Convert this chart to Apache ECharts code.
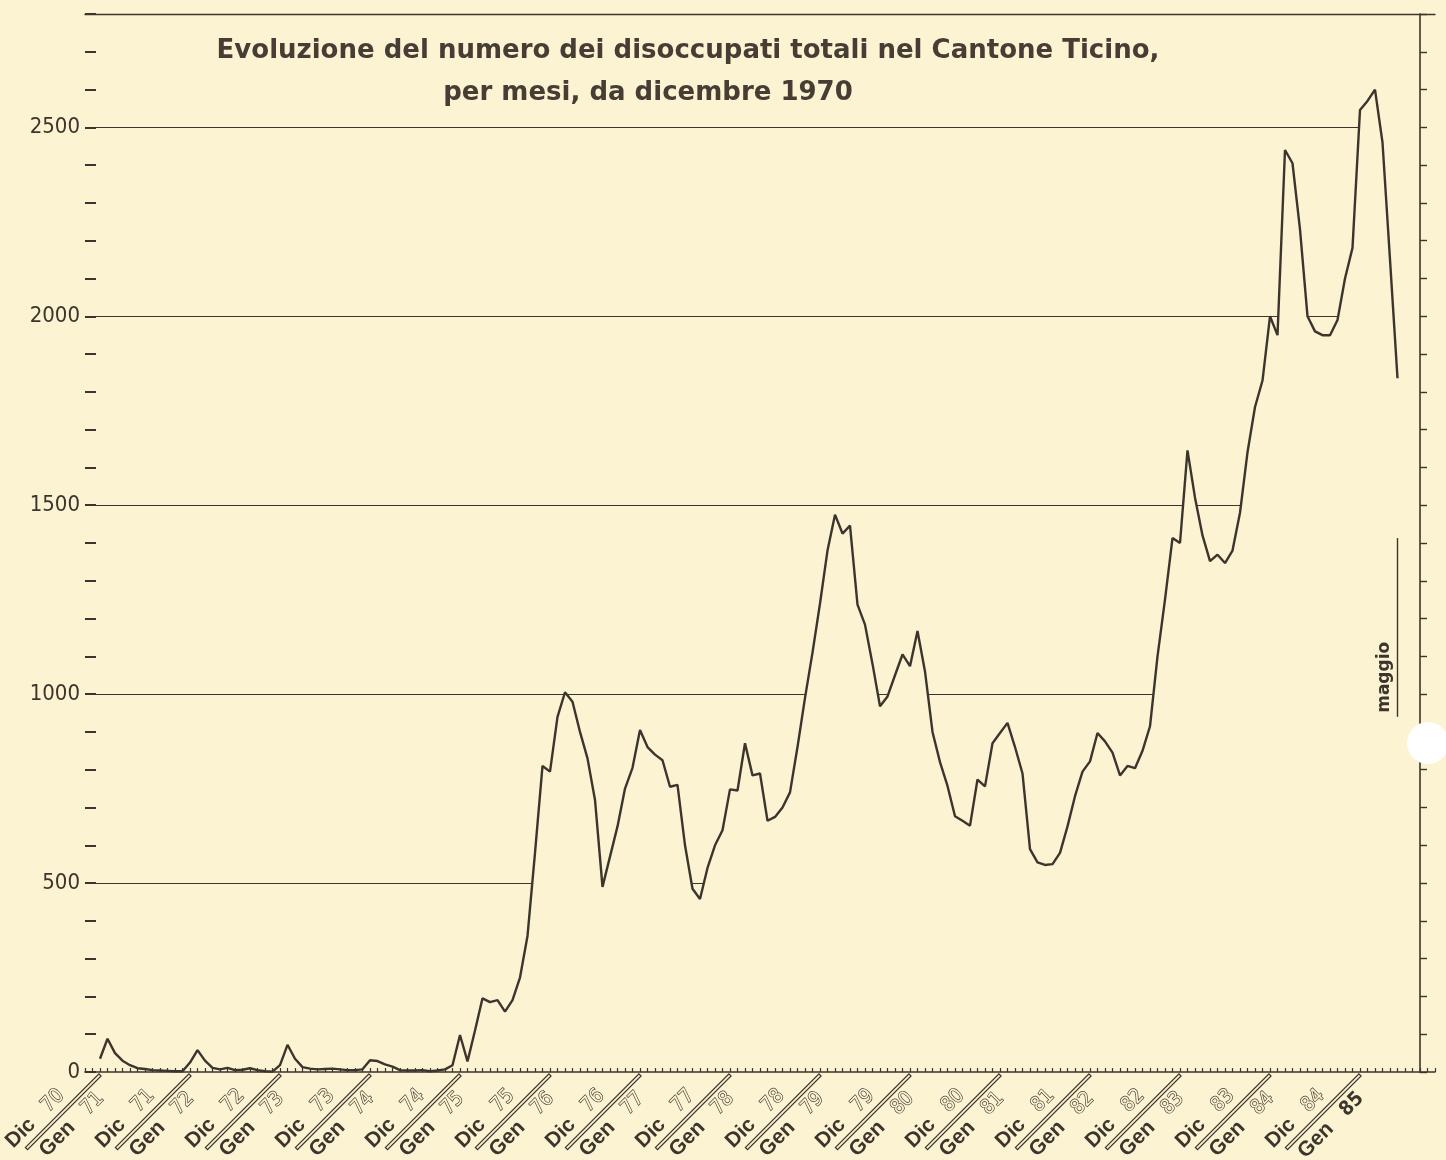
<!DOCTYPE html>
<html>
<head>
<meta charset="utf-8">
<title>Disoccupati Ticino</title>
<script src="https://cdn.jsdelivr.net/npm/echarts@6/dist/echarts.min.js"></script>
<style>
  html, body { margin: 0; padding: 0; background: #fbf3d1; }
  #chart { width: 1446px; height: 1160px; }
</style>
</head>
<body>
<div id="chart"></div>
<script>
// Disoccupati totali nel Cantone Ticino, valori mensili dic 1970 - mag 1985
const unemployed = [
  35, 88, 50, 30, 18, 10, 8, 5, 4, 3, 2, 2,                 // dic 70 - nov 71
  25, 58, 30, 11, 7, 11, 5, 6, 10, 5, 2, 1,                 // dic 71 - nov 72
  18, 72, 35, 13, 9, 7, 8, 9, 7, 5, 5, 7,                   // dic 72 - nov 73
  31, 29, 20, 14, 5, 4, 4, 5, 2, 4, 7, 18,                  // dic 73 - nov 74
  98, 28, 110, 195, 185, 190, 160, 190, 250, 360, 580, 810, // dic 74 - nov 75
  795, 940, 1005, 980, 900, 830, 720, 490, 570, 650, 750, 805,
  905, 860, 840, 825, 755, 760, 600, 485, 458, 540, 600, 640,
  748, 745, 870, 785, 790, 665, 675, 700, 740, 860, 990, 1110,
  1240, 1380, 1475, 1425, 1446, 1237, 1184, 1080, 968, 994, 1050, 1105,
  1074, 1167, 1060, 900, 820, 757, 677, 665, 652, 774, 756, 870,
  897, 924, 860, 790, 590, 555, 548, 550, 580, 650, 730, 795,
  822, 897, 875, 845, 785, 810, 804, 850, 915, 1100, 1250, 1413,
  1400, 1645, 1520, 1420, 1352, 1369, 1347, 1380, 1480, 1640, 1760, 1830,
  2000, 1950, 2440, 2405, 2230, 2000, 1960, 1950, 1950, 1990, 2100, 2181,
  2546, 2570, 2600, 2460, 2150, 1836                          // dic 84 - mag 85
];
const decYears = ['70', '71', '72', '73', '74', '75', '76', '77', '78', '79', '80', '81', '82', '83', '84'];
const janYears = ['71', '72', '73', '74', '75', '76', '77', '78', '79', '80', '81', '82', '83', '84', '85'];
const gridLevels = [500, 1000, 1500, 2000, 2500];
const titleLines = [
  'Evoluzione del numero dei disoccupati totali nel Cantone Ticino,',
  'per mesi, da dicembre 1970'
];
const lastLabel = 'maggio';

(function () {
  const BG = '#fbf3d1';
  const INK = '#3b352d';
  const NARROW = "'Liberation Sans Narrow', 'DejaVu Sans Condensed', sans-serif";

  const points = unemployed.map((v, i) => [i, v]);
  const lastIdx = unemployed.length - 1;

  const chart = echarts.init(document.getElementById('chart'));

  const yearLabel = v => {
    const k = v / 12;
    if (!Number.isInteger(k) || k < 0 || k >= decYears.length) return '';
    const genStyle = k === decYears.length - 1 ? 'mb' : 'm';
    return '{d|Dic}{n|' + decYears[k] + '}\n{r| }\n{g|Gen}{' + genStyle + '|' + janYears[k] + '}';
  };

  const bold = { fontFamily: 'Liberation Sans', fontWeight: 900, fontSize: 21, lineHeight: 24, color: INK, align: 'right' };
  const outline = { fontFamily: NARROW, fontSize: 20, lineHeight: 24, color: BG, textBorderColor: INK, textBorderWidth: 1.3, align: 'right' };

  chart.setOption({
    backgroundColor: BG,
    animation: false,
    title: [
      {
        text: titleLines[0], left: 683, top: 33, textAlign: 'center',
        textStyle: { fontFamily: 'DejaVu Sans', fontWeight: 'bold', fontSize: 26, color: '#463e34' }
      },
      {
        text: titleLines[1], left: 643, top: 75, textAlign: 'center',
        textStyle: { fontFamily: 'DejaVu Sans', fontWeight: 'bold', fontSize: 26, color: '#463e34' }
      }
    ],
    grid: { left: 85, right: 11, top: 14, bottom: 88, containLabel: false, outerBoundsMode: 'none' },
    xAxis: [
      {
        type: 'value', min: -2, max: 178, interval: 1, z: 4,
        axisLine: { onZero: false, lineStyle: { color: INK, width: 1.6 } },
        axisTick: { inside: true, length: 4, lineStyle: { color: INK, width: 1.2 } },
        splitLine: { show: false },
        axisLabel: {
          rotate: 45, margin: 3, fontSize: 18, color: INK,
          formatter: yearLabel,
          rich: {
            d: bold,
            g: bold,
            n: Object.assign({}, outline, { padding: [0, 40, 0, 18] }),
            m: Object.assign({}, outline, { padding: [0, 14, 0, 18] }),
            mb: Object.assign({}, outline, { color: INK, fontWeight: 'bold', textBorderWidth: 0, padding: [0, 14, 0, 18] }),
            r: { width: 104, height: 3, fontSize: 3, lineHeight: 6, borderColor: INK, borderWidth: 1.2, align: 'right' }
          }
        }
      },
      {
        type: 'value', position: 'top', min: -2, max: 178,
        axisLine: { show: true, onZero: false, lineStyle: { color: INK, width: 1.4 } },
        axisTick: { show: false }, axisLabel: { show: false }, splitLine: { show: false }
      }
    ],
    yAxis: [
      {
        type: 'value', position: 'left', min: 0, max: 2800, interval: 100,
        axisLine: { show: false, onZero: false },
        axisTick: { show: true, inside: true, length: 11, lineStyle: { color: INK, width: 2 } },
        splitLine: { show: false },
        axisLabel: {
          margin: 5, fontFamily: NARROW, fontSize: 22, color: INK,
          formatter: v => (v % 500 === 0 && v <= 2500 ? String(v) : '')
        }
      },
      {
        type: 'value', position: 'right', offset: -15, min: 0, max: 2800, interval: 100,
        axisLine: { show: true, onZero: false, lineStyle: { color: INK, width: 1.6 } },
        axisTick: { show: true, length: 7, lineStyle: { color: INK, width: 1.4 } },
        axisLabel: { show: false }, splitLine: { show: false }
      }
    ],
    series: [
      {
        // holder for the horizontal guide lines, drawn beneath the masked curve
        type: 'line', data: points, symbol: 'none', silent: true, z: 1,
        lineStyle: { opacity: 0 },
        markLine: {
          z: 1, silent: true, symbol: 'none',
          label: { show: false },
          lineStyle: { type: 'solid', color: INK, width: 1.2 },
          data: gridLevels.map(v => [{ coord: [-1.3, v] }, { coord: [lastIdx - 2.5, v] }])
        }
      },
      {
        type: 'line', data: points, symbol: 'none', silent: true, z: 2,
        lineStyle: { color: INK, width: 2.4 },
        areaStyle: { color: BG, opacity: 1 },
        markLine: {
          silent: true, symbol: 'none',
          lineStyle: { type: 'solid', color: INK, width: 1.4 },
          label: {
            show: true, position: 'insideStartTop', formatter: lastLabel,
            fontFamily: 'DejaVu Sans', fontWeight: 'bold', fontSize: 17, color: INK, distance: 4
          },
          data: [[{ coord: [lastIdx, 940] }, { coord: [lastIdx, 1413] }]]
        }
      }
    ],
    graphic: [
      { type: 'circle', z: 100, shape: { cx: 1428, cy: 743, r: 21 }, style: { fill: '#ffffff' } }
    ]
  });

  window.addEventListener('resize', () => chart.resize());
})();
</script>
</body>
</html>
